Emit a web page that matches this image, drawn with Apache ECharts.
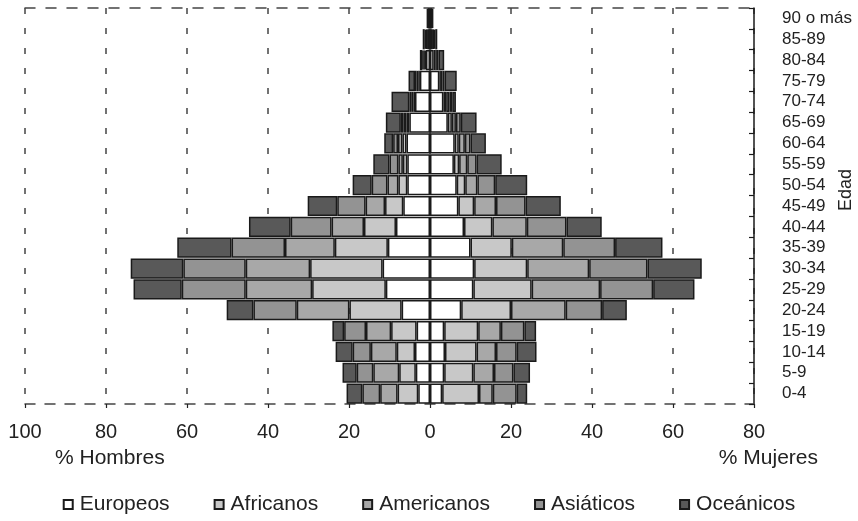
<!DOCTYPE html>
<html>
<head>
<meta charset="utf-8">
<script src="https://cdn.jsdelivr.net/npm/echarts@6/dist/echarts.min.js"></script>
<style>
html,body{margin:0;padding:0;background:#fff;}
#chart{width:858px;height:521px;}
</style>
</head>
<body>
<div id="chart"></div>
<script>
var categories = ['0-4','5-9','10-14','15-19','20-24','25-29','30-34','35-39','40-44','45-49','50-54','55-59','60-64','65-69','70-74','75-79','80-84','85-89','90 o más'];
var seriesNames = ['Europeos','Africanos','Americanos','Asiáticos','Oceánicos'];
var seriesColors = ['#ffffff','#c8c8c8','#a8a8a8','#939393','#595959'];

// Hombres (% shown to the left)
var menEuropeos   = [2.9,3.5,3.7,3.3,7.0,10.9,11.7,10.4,8.4,6.6,5.6,5.6,5.8,5.1,3.7,2.5,1.0,0.6,0.2];
var menAfricanos  = [5.1,4.1,4.5,6.3,12.9,18.2,17.9,13.1,7.9,4.5,2.2,1.1,1.0,0.7,0.4,0.4,0.3,0.2,0.1];
var menAmericanos = [4.3,6.4,6.4,6.2,13.0,16.4,15.9,12.3,8.0,4.8,2.7,1.1,1.1,0.7,0.4,0.4,0.3,0.2,0.1];
var menAsiaticos  = [4.4,4.1,4.5,5.4,10.7,15.8,15.4,13.2,10.1,7.0,3.9,2.2,1.2,0.7,0.6,0.4,0.3,0.3,0.1];
var menOceanicos  = [3.9,3.5,4.2,2.9,6.6,11.9,13.0,13.4,10.3,7.3,4.7,4.0,2.2,3.7,4.4,1.6,0.6,0.5,0.3];

// Mujeres (% shown to the right)
var womenEuropeos   = [3.0,3.5,3.7,3.5,7.7,10.7,10.9,10.0,8.4,7.0,6.6,5.9,6.1,4.4,3.3,2.3,0.9,0.6,0.2];
var womenAfricanos  = [9.1,7.2,7.8,8.4,12.3,14.4,13.1,10.2,7.0,3.9,2.1,1.3,1.0,1.0,0.7,0.4,0.4,0.2,0.1];
var womenAmericanos = [3.4,5.1,4.8,5.6,13.5,16.9,15.3,12.7,8.5,5.4,3.0,2.0,1.5,1.0,0.8,0.4,0.4,0.2,0.1];
var womenAsiaticos  = [5.9,4.8,5.1,5.8,9.0,13.1,14.4,12.8,9.8,7.3,4.4,2.3,1.4,1.2,0.7,0.5,0.4,0.3,0.1];
var womenOceanicos  = [2.6,4.1,4.9,2.9,6.1,10.2,13.4,11.7,8.7,8.7,7.9,6.2,3.8,3.9,0.9,3.0,1.4,0.5,0.3];

var xMin = -100, xMax = 80, xStep = 20;
var menLabel = '% Hombres', womenLabel = '% Mujeres', yName = 'Edad';

var menData = [menEuropeos, menAfricanos, menAmericanos, menAsiaticos, menOceanicos];
var womenData = [womenEuropeos, womenAfricanos, womenAmericanos, womenAsiaticos, womenOceanicos];

var FONT = '"Liberation Sans", Arial, Helvetica, sans-serif';
var series = [];
function mk(name, color, data, stack) {
  return {
    name: name, type: 'bar', stack: stack, data: data,
    barCategoryGap: '3%', barGap: '-100%',
    itemStyle: { color: color, borderColor: '#1a1a1a', borderWidth: 1.5 },
    emphasis: { disabled: true },
    animation: false
  };
}
for (var i = 0; i < 5; i++) {
  series.push(mk(seriesNames[i], seriesColors[i], menData[i].map(function(v){return -v;}), 'men'));
}
for (var j = 0; j < 5; j++) {
  series.push(mk(seriesNames[j], seriesColors[j], womenData[j], 'women'));
}

var chart = echarts.init(document.getElementById('chart'), null, {renderer: 'canvas'});
chart.setOption({
  animation: false,
  backgroundColor: '#ffffff',
  textStyle: { fontFamily: FONT },
  grid: { left: 25, right: 104, top: 8, bottom: 117, containLabel: false },
  legend: {
    data: seriesNames,
    bottom: 1,
    left: 'center',
    icon: 'rect',
    itemWidth: 9, itemHeight: 9,
    itemGap: 44,
    textStyle: { fontSize: 21, color: '#222', fontFamily: FONT, padding: [0,0,0,2] }
  },
  xAxis: [{
    type: 'value', min: xMin, max: xMax, interval: xStep, position: 'bottom',
    axisLine: { show: true, onZero: false, lineStyle: { color: '#444', width: 1.5, type: [10, 10] } },
    axisTick: { show: true, length: 4, lineStyle: { color: '#222', width: 1.2 } },
    axisLabel: { fontSize: 20, color: '#222', margin: 18, fontFamily: FONT,
      formatter: function (v) { return String(Math.abs(v)); } },
    splitLine: { show: true, lineStyle: { color: '#444', width: 1.5, type: [6, 14] } }
  }, {
    type: 'value', min: xMin, max: xMax, interval: xStep, position: 'top',
    axisLine: { show: true, onZero: false, lineStyle: { color: '#444', width: 1.5, type: [10, 11] } },
    axisTick: { show: false }, axisLabel: { show: false }, splitLine: { show: false }
  }],
  yAxis: {
    type: 'category', data: categories, position: 'right',
    axisLine: { show: true, onZero: false, lineStyle: { color: '#1a1a1a', width: 1.5 } },
    axisTick: { show: true, inside: true, length: 5, interval: 0, lineStyle: { color: '#1a1a1a', width: 1.2 } },
    axisLabel: { fontSize: 17, color: '#222', margin: 28, align: 'left', interval: 0, fontFamily: FONT },
    splitLine: { show: false }
  },
  graphic: [
    { type: 'text', left: 55, top: 448, style: { text: menLabel, fontSize: 21, fill: '#222', fontFamily: FONT } },
    { type: 'text', right: 40, top: 448, style: { text: womenLabel, fontSize: 21, fill: '#222', fontFamily: FONT } },
    { type: 'text', x: 846, y: 190, rotation: Math.PI / 2, style: { text: yName, fontSize: 18, fill: '#222', fontFamily: FONT, align: 'center', verticalAlign: 'middle' } }
  ],
  series: series
});
</script>
</body>
</html>
